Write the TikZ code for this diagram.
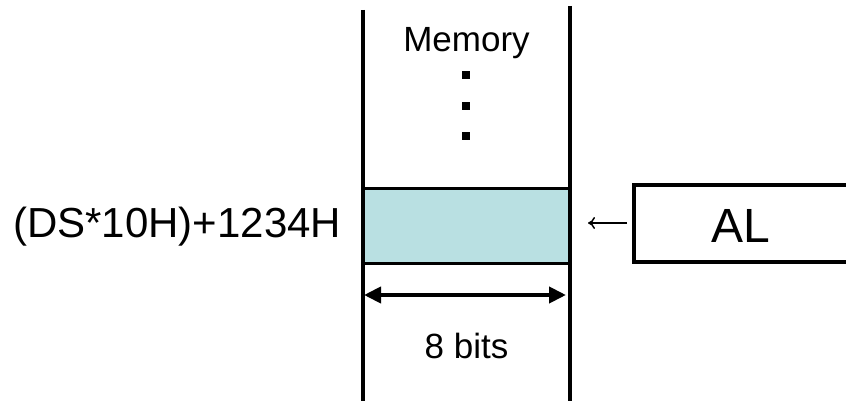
\documentclass[tikz,border=0pt]{standalone}
\usepackage{fontspec}
\setmainfont{Liberation Sans}
\usetikzlibrary{arrows.meta}
\begin{document}
\begin{tikzpicture}[x=1pt,y=-1pt,
  wall/.style={line width=4pt},
  cellbox/.style={draw,line width=3pt,fill=cellcol,minimum width=207pt,minimum height=75pt,inner sep=0pt},
  regbox/.style={draw,line width=4pt,minimum width=240pt,minimum height=77pt,inner sep=0pt},
  lbl/.style={inner sep=0pt,font=\fontsize{35}{42}\selectfont},
  biglbl/.style={inner sep=0pt,font=\fontsize{42}{50}\selectfont},
  reglbl/.style={inner sep=0pt,font=\fontsize{48}{56}\selectfont},
  dotsq/.style={fill=black,minimum size=8pt,inner sep=0pt},
  dimarrow/.style={line width=4pt,{Triangle[length=17pt,width=16pt]}-{Triangle[length=17pt,width=16pt]}},
  thinarrow/.style={line width=1.5pt,-{To[length=7pt,width=12pt]}}
]
\definecolor{cellcol}{HTML}{B9E0E2}
\useasboundingbox (0,0) rectangle (846,401);
\clip (0,0) rectangle (846,401);
% memory cell
\node[cellbox] (cell) at (466.5,225.5) {};
% walls
\coordinate (lt) at (363,10); \coordinate (lb) at (363,402);
\coordinate (rt) at (570,6); \coordinate (rb) at (570,402);
\draw[wall] (lt) -- (lb);
\draw[wall] (rt) -- (rb);
% labels
\node[lbl,anchor=base] (mem) at (466.5,52) {Memory};
\node[dotsq] (d1) at (466,75) {};
\node[dotsq] (d2) at (466,106) {};
\node[dotsq] (d3) at (466,136) {};
\node[biglbl,anchor=base west] (addr) at (13,237) {(DS*10H)+1234H};
% width arrow
\coordinate (wl) at (364,295); \coordinate (wr) at (566,295);
\draw[dimarrow] (wl) -- (wr);
\node[lbl,anchor=base] (bits) at (466.5,358) {8 bits};
% register AL
\node[regbox,anchor=north west] (al) at (632,183) {};
\node[reglbl,anchor=base] (altext) at (741,242) {AL};
\coordinate (tip) at (588,223);
\draw[thinarrow] (al.west |- tip) ++(-5,0) -- (tip);
\end{tikzpicture}
\end{document}
